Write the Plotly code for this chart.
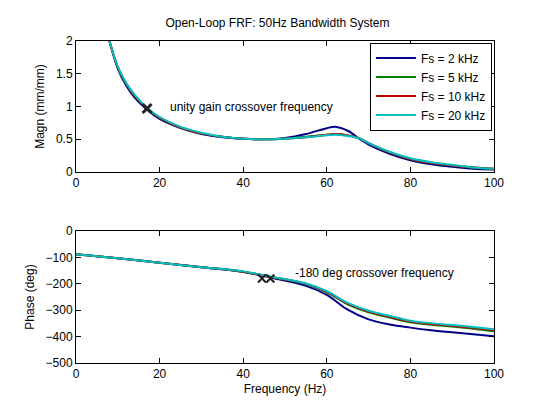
import plotly.graph_objects as go

freq_mag = [8,10,12,14,17,20,25,30,35,40,45,50,55,60,62,65,68,70,75,80,85,90,95,100]
mag_2k  = [2.0,1.58,1.32,1.14,0.95,0.81,0.67,0.58,0.53,0.51,0.50,0.52,0.58,0.67,0.69,0.63,0.50,0.42,0.28,0.18,0.12,0.08,0.05,0.04]
mag_5k  = [2.0,1.60,1.35,1.17,0.97,0.83,0.68,0.59,0.54,0.51,0.50,0.51,0.54,0.57,0.58,0.56,0.51,0.44,0.30,0.20,0.14,0.10,0.07,0.05]
mag_10k = [2.0,1.60,1.35,1.17,0.97,0.83,0.68,0.59,0.54,0.51,0.50,0.51,0.53,0.57,0.58,0.56,0.51,0.44,0.30,0.20,0.14,0.10,0.07,0.05]
mag_20k = [2.0,1.61,1.36,1.18,0.98,0.84,0.69,0.60,0.54,0.51,0.50,0.51,0.53,0.56,0.57,0.55,0.51,0.44,0.31,0.21,0.15,0.11,0.07,0.05]

freq_ph = [0,10,20,30,40,47,55,60,65,70,75,80,85,90,95,100]
ph_2k  = [-88,-103,-120,-137,-155,-178,-208,-242,-298,-335,-354,-366,-376,-384,-391,-399]
ph_5k  = [-88,-103,-120,-137,-154,-175,-201,-232,-278,-308,-328,-346,-355,-362,-370,-380]
ph_10k = [-88,-103,-120,-137,-154,-175,-200,-230,-275,-305,-325,-343,-352,-359,-367,-376]
ph_20k = [-88,-103,-120,-137,-153,-174,-199,-228,-272,-302,-321,-340,-349,-356,-364,-372]

labels = ["Fs = 2 kHz","Fs = 5 kHz","Fs = 10 kHz","Fs = 20 kHz"]
colors = ["#00008B","#007F00","#C00000","#00BFBF"]

fig = go.Figure()
for lab, c, m, p in zip(labels, colors, [mag_2k,mag_5k,mag_10k,mag_20k], [ph_2k,ph_5k,ph_10k,ph_20k]):
    fig.add_trace(go.Scatter(x=freq_mag, y=m, mode="lines", name=lab, line=dict(color=c, width=2, shape="spline"), xaxis="x", yaxis="y"))
    fig.add_trace(go.Scatter(x=freq_ph, y=p, mode="lines", name=lab, showlegend=False, line=dict(color=c, width=2, shape="spline"), xaxis="x2", yaxis="y2"))

fig.add_trace(go.Scatter(x=[17], y=[0.97], mode="markers", marker=dict(symbol="x-thin", size=9, line=dict(width=3, color="#222")), showlegend=False, xaxis="x", yaxis="y"))
fig.add_trace(go.Scatter(x=[44.5, 46.5], y=[-180, -180], mode="markers", marker=dict(symbol="x-thin", size=8, line=dict(width=2, color="#222")), showlegend=False, xaxis="x2", yaxis="y2"))

ax = dict(showline=True, mirror="ticks", linecolor="black", ticks="inside", ticklen=5, tickcolor="black", showgrid=False, zeroline=False, tickfont=dict(size=12, color="black"), automargin=False)
tf = dict(size=12)
fig.update_layout(
    width=539, height=404, paper_bgcolor="white", plot_bgcolor="white",
    margin=dict(l=68, r=53, t=33, b=49),
    font=dict(family="Liberation Sans, Arial", size=12, color="black"),
    title=dict(text="Open-Loop FRF: 50Hz Bandwidth System", x=0.5, xanchor="center", y=0.975, yanchor="top", font=dict(size=12)),
    xaxis=dict(ax, domain=[0,1], range=[0,100], dtick=20, anchor="y"),
    yaxis=dict(ax, domain=[0.593,1], range=[0,2], dtick=0.5, title=dict(text="Magn (mm/mm)", standoff=8, font=tf)),
    xaxis2=dict(ax, domain=[0,1], range=[0,100], dtick=20, anchor="y2", title=dict(text="Frequency (Hz)", standoff=4, font=tf)),
    yaxis2=dict(ax, domain=[0,0.41], range=[-500,0], dtick=100, title=dict(text="Phase (deg)", standoff=8, font=tf), anchor="x2"),
    legend=dict(x=0.995, y=0.995, xanchor="right", yanchor="top", bordercolor="black", borderwidth=1, bgcolor="white", font=dict(size=12), tracegroupgap=0, itemwidth=40),
    annotations=[
        dict(x=22, y=1.0, xref="x", yref="y", text="unity gain crossover frequency", showarrow=False, xanchor="left", font=dict(size=12)),
        dict(x=52, y=-160, xref="x2", yref="y2", text="-180 deg crossover frequency", showarrow=False, xanchor="left", font=dict(size=12)),
    ],
)
fig.write_html("out.html")
